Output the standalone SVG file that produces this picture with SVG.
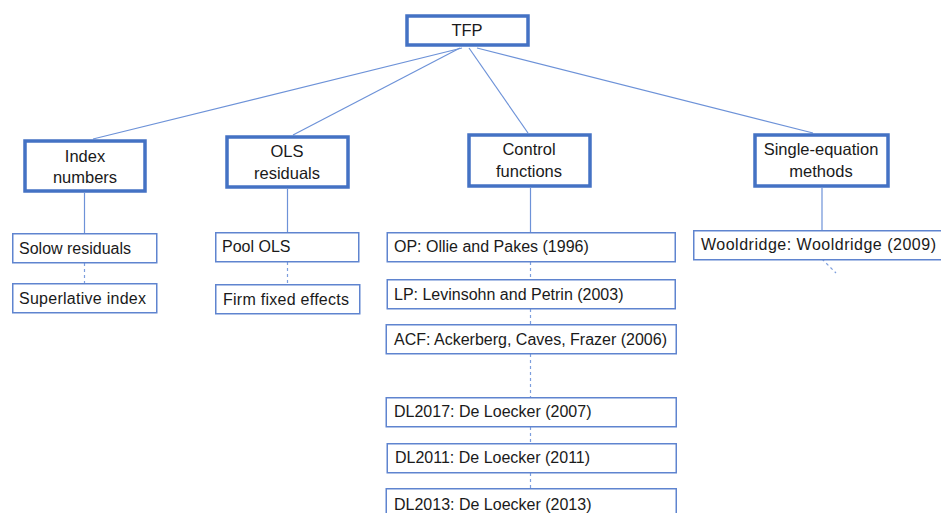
<svg xmlns="http://www.w3.org/2000/svg" width="941" height="513" viewBox="0 0 941 513">
<style>
.thick{fill:#fff;stroke:#4472C4;stroke-width:3.5}
.thin{fill:#fff;stroke:#5f84cf;stroke-width:1.5}
.ln{stroke:#6d92d8;stroke-width:1.2;fill:none}
.dash{stroke:#7d9edd;stroke-width:1.2;fill:none;stroke-dasharray:3 3}
text{font-family:"Liberation Sans",Arial,sans-serif;font-size:16px;fill:#1a1a1a}
.c{text-anchor:middle;font-size:16.5px}
</style>
<rect width="941" height="513" fill="#fff"/>
<g id="connectors">
<line class="ln" x1="462" y1="48" x2="93" y2="139"/>
<line class="ln" x1="460" y1="48" x2="293" y2="135"/>
<line class="ln" x1="469" y1="48" x2="528" y2="133"/>
<line class="ln" x1="477" y1="48" x2="813" y2="133"/>
<line class="ln" x1="84.5" y1="193" x2="84.5" y2="233"/>
<line class="dash" x1="84.5" y1="263" x2="84.5" y2="283"/>
<line class="ln" x1="287.5" y1="189" x2="287.5" y2="232"/>
<line class="dash" x1="287.5" y1="262" x2="287.5" y2="284"/>
<line class="ln" x1="530.5" y1="188" x2="530.5" y2="232"/>
<line class="dash" x1="530.5" y1="262" x2="530.5" y2="279"/>
<line class="dash" x1="530.5" y1="309" x2="530.5" y2="324"/>
<line class="dash" x1="530.5" y1="354" x2="530.5" y2="397"/>
<line class="dash" x1="530.5" y1="427" x2="530.5" y2="443"/>
<line class="dash" x1="530.5" y1="473" x2="530.5" y2="488"/>
<line class="ln" x1="822" y1="188" x2="822" y2="230"/>
<line class="dash" x1="822" y1="259" x2="836" y2="273"/>
</g>
<g id="tfp">
<rect class="thick" x="407" y="16" width="121" height="29"/>
<text class="c" x="467" y="36">TFP</text>
</g>
<g id="index-numbers">
<rect class="thick" x="25" y="141" width="120" height="50"/>
<text class="c" x="85" y="162">Index</text>
<text class="c" x="85" y="183">numbers</text>
</g>
<g id="ols-residuals">
<rect class="thick" x="227" y="137" width="121" height="50"/>
<text class="c" x="287" y="157">OLS</text>
<text class="c" x="287" y="179">residuals</text>
</g>
<g id="control-functions">
<rect class="thick" x="469" y="135" width="121" height="51"/>
<text class="c" x="529" y="155">Control</text>
<text class="c" x="529" y="177">functions</text>
</g>
<g id="single-equation">
<rect class="thick" x="755" y="135" width="133" height="51"/>
<text class="c" x="821" y="155">Single-equation</text>
<text class="c" x="821" y="177">methods</text>
</g>
<g id="solow">
<rect class="thin" x="12.75" y="233.75" width="144" height="29"/>
<text x="19" y="254">Solow residuals</text>
</g>
<g id="superlative">
<rect class="thin" x="12.75" y="283.75" width="144" height="29"/>
<text x="19" y="304" textLength="127">Superlative index</text>
</g>
<g id="pool-ols">
<rect class="thin" x="215.75" y="232.75" width="143" height="29"/>
<text x="222" y="252">Pool OLS</text>
</g>
<g id="firm-fe">
<rect class="thin" x="215.75" y="284.75" width="144" height="29"/>
<text x="223" y="305" textLength="126">Firm fixed effects</text>
</g>
<g id="op">
<rect class="thin" x="387.25" y="232.75" width="288" height="29"/>
<text x="394" y="252">OP: Ollie and Pakes (1996)</text>
</g>
<g id="lp">
<rect class="thin" x="387.25" y="279.75" width="288" height="29"/>
<text x="394" y="300">LP: Levinsohn and Petrin (2003)</text>
</g>
<g id="acf">
<rect class="thin" x="386.25" y="324.75" width="290" height="29"/>
<text x="394" y="345">ACF: Ackerberg, Caves, Frazer (2006)</text>
</g>
<g id="dl2017">
<rect class="thin" x="386.25" y="397.75" width="290" height="29"/>
<text x="394" y="417">DL2017: De Loecker (2007)</text>
</g>
<g id="dl2011">
<rect class="thin" x="387.25" y="443.75" width="289" height="29"/>
<text x="395" y="463">DL2011: De Loecker (2011)</text>
</g>
<g id="dl2013">
<rect class="thin" x="386.25" y="488.75" width="290" height="29"/>
<text x="394" y="510">DL2013: De Loecker (2013)</text>
</g>
<g id="wooldridge">
<rect class="thin" x="693.75" y="230.75" width="250" height="29"/>
<text x="701" y="250" font-size="16.5" textLength="235">Wooldridge: Wooldridge (2009)</text>
</g>
</svg>
